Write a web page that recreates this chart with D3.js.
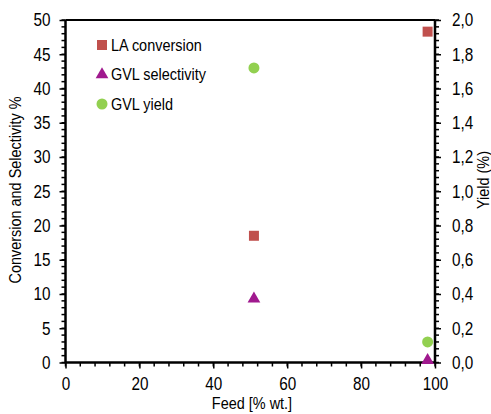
<!DOCTYPE html>
<html>
<head>
<meta charset="utf-8">
<script src="https://cdn.jsdelivr.net/npm/d3@7"></script>
<style>
  body { margin: 0; background: #fff; }
  svg text { font-family: "Liberation Sans", Arial, sans-serif; fill: #000; }
</style>
</head>
<body>
<svg id="chart" width="491" height="414"></svg>
<script>
// data
var feed = [51, 98]
var laConversion = [18.5, 48.3]
var gvlSelectivity = [9.3, 0.3]
var gvlYield = [1.72, 0.12]

var leftTicks = d3.range(0, 51, 5)
var rightTicks = d3.range(0, 2.01, 0.2)
var xTicks = d3.range(0, 101, 20)

var svg = d3.select('#chart')
var m = { left: 65.5, right: 435, top: 20, bottom: 362.5 }
var SX = 0.85 // squeeze text horizontally, the original uses a narrow face

var x = d3.scaleLinear().domain([0, 100]).range([m.left, m.right])
var yL = d3.scaleLinear().domain([0, 50]).range([m.bottom, m.top])
var yR = d3.scaleLinear().domain([0, 2]).range([m.bottom, m.top])

var fmtR = function (d) { return d3.format('.1f')(d).replace('.', ',') }

function narrow (sel) {
  sel.each(function () {
    var t = d3.select(this)
    var xv = +t.attr('x') || 0
    t.attr('x', xv / SX).attr('transform', 'scale(' + SX + ',1)')
  })
}

// minor ticks
var g = svg.append('g')
g.selectAll('.mxl').data(d3.range(0, 51, 1)).enter().append('line')
  .attr('x1', m.left - 4).attr('x2', m.left)
  .attr('y1', (d) => yL(d)).attr('y2', (d) => yL(d))
  .attr('stroke', '#000').attr('stroke-width', 1.5)
g.selectAll('.mxr').data(d3.range(0, 51, 1)).enter().append('line')
  .attr('x1', m.right).attr('x2', m.right + 4)
  .attr('y1', (d) => yL(d)).attr('y2', (d) => yL(d))
  .attr('stroke', '#000').attr('stroke-width', 1.5)
g.selectAll('.mxx').data(d3.range(0, 101, 4)).enter().append('line')
  .attr('x1', (d) => x(d)).attr('x2', (d) => x(d))
  .attr('y1', m.bottom).attr('y2', m.bottom + 4)
  .attr('stroke', '#000').attr('stroke-width', 1.5)

// major axes
var axL = svg.append('g').attr('transform', 'translate(' + m.left + ',0)')
  .call(d3.axisLeft(yL).tickValues(leftTicks).tickSize(6).tickPadding(9))
var axR = svg.append('g').attr('transform', 'translate(' + m.right + ',0)')
  .call(d3.axisRight(yR).tickValues(rightTicks).tickSize(6).tickPadding(11).tickFormat(fmtR))
var axB = svg.append('g').attr('transform', 'translate(0,' + m.bottom + ')')
  .call(d3.axisBottom(x).tickValues(xTicks).tickSize(6).tickPadding(9))

;[axL, axR, axB].forEach(function (a) {
  a.select('.domain').remove()
  a.selectAll('line').attr('stroke', '#000').attr('stroke-width', 1.5)
  a.selectAll('text').style('font-size', '18px').attr('fill', '#000')
  narrow(a.selectAll('text'))
})

// frame
svg.append('line').attr('x1', m.left).attr('x2', m.right).attr('y1', m.top).attr('y2', m.top)
  .attr('stroke', '#000').attr('stroke-width', 2)
svg.append('line').attr('x1', m.left).attr('x2', m.right).attr('y1', m.bottom).attr('y2', m.bottom)
  .attr('stroke', '#000').attr('stroke-width', 2.5)
svg.append('line').attr('x1', m.left).attr('x2', m.left).attr('y1', m.top).attr('y2', m.bottom)
  .attr('stroke', '#000').attr('stroke-width', 2.5)
svg.append('line').attr('x1', m.right).attr('x2', m.right).attr('y1', m.top).attr('y2', m.bottom)
  .attr('stroke', '#000').attr('stroke-width', 2.5)

// axis titles
svg.append('text').attr('transform', 'translate(21,190) rotate(-90) scale(' + SX + ',1)')
  .attr('text-anchor', 'middle').style('font-size', '17px').text('Conversion and Selectivity %')
svg.append('text').attr('transform', 'translate(489,180) rotate(-90) scale(' + SX + ',1)')
  .attr('text-anchor', 'middle').style('font-size', '17px').text('Yield (%)')
svg.append('text').attr('transform', 'translate(252,409) scale(' + SX + ',1)')
  .attr('text-anchor', 'middle').style('font-size', '17px').text('Feed [% wt.]')

// marks
var sq = d3.symbol().type(d3.symbolSquare).size(100)
var tri = d3.symbol().type(d3.symbolTriangle).size(70)
var circ = d3.symbol().type(d3.symbolCircle).size(95)

svg.append('g').selectAll('path').data(feed).enter().append('path')
  .attr('d', sq).attr('fill', '#C0504D')
  .attr('transform', (d, i) => 'translate(' + x(d) + ',' + yL(laConversion[i]) + ')')
svg.append('g').selectAll('path').data(feed).enter().append('path')
  .attr('d', tri).attr('fill', '#A0198E')
  .attr('transform', (d, i) => 'translate(' + x(d) + ',' + yL(gvlSelectivity[i]) + ')')
svg.append('g').selectAll('path').data(feed).enter().append('path')
  .attr('d', circ).attr('fill', '#92D050')
  .attr('transform', (d, i) => 'translate(' + x(d) + ',' + yR(gvlYield[i]) + ')')

// legend
var legend = [
  { name: 'LA conversion', sym: sq, color: '#C0504D' },
  { name: 'GVL selectivity', sym: tri, color: '#A0198E' },
  { name: 'GVL yield', sym: circ, color: '#92D050' }
]
var lg = svg.append('g').selectAll('g').data(legend).enter().append('g')
  .attr('transform', (d, i) => 'translate(102,' + (45 + i * 29.5) + ')')
lg.append('path').attr('d', (d) => d.sym()).attr('fill', (d) => d.color)
lg.append('text').attr('transform', 'translate(9,0) scale(' + SX + ',1)')
  .attr('dy', '0.35em').style('font-size', '17px').text((d) => d.name)
</script>
</body>
</html>
